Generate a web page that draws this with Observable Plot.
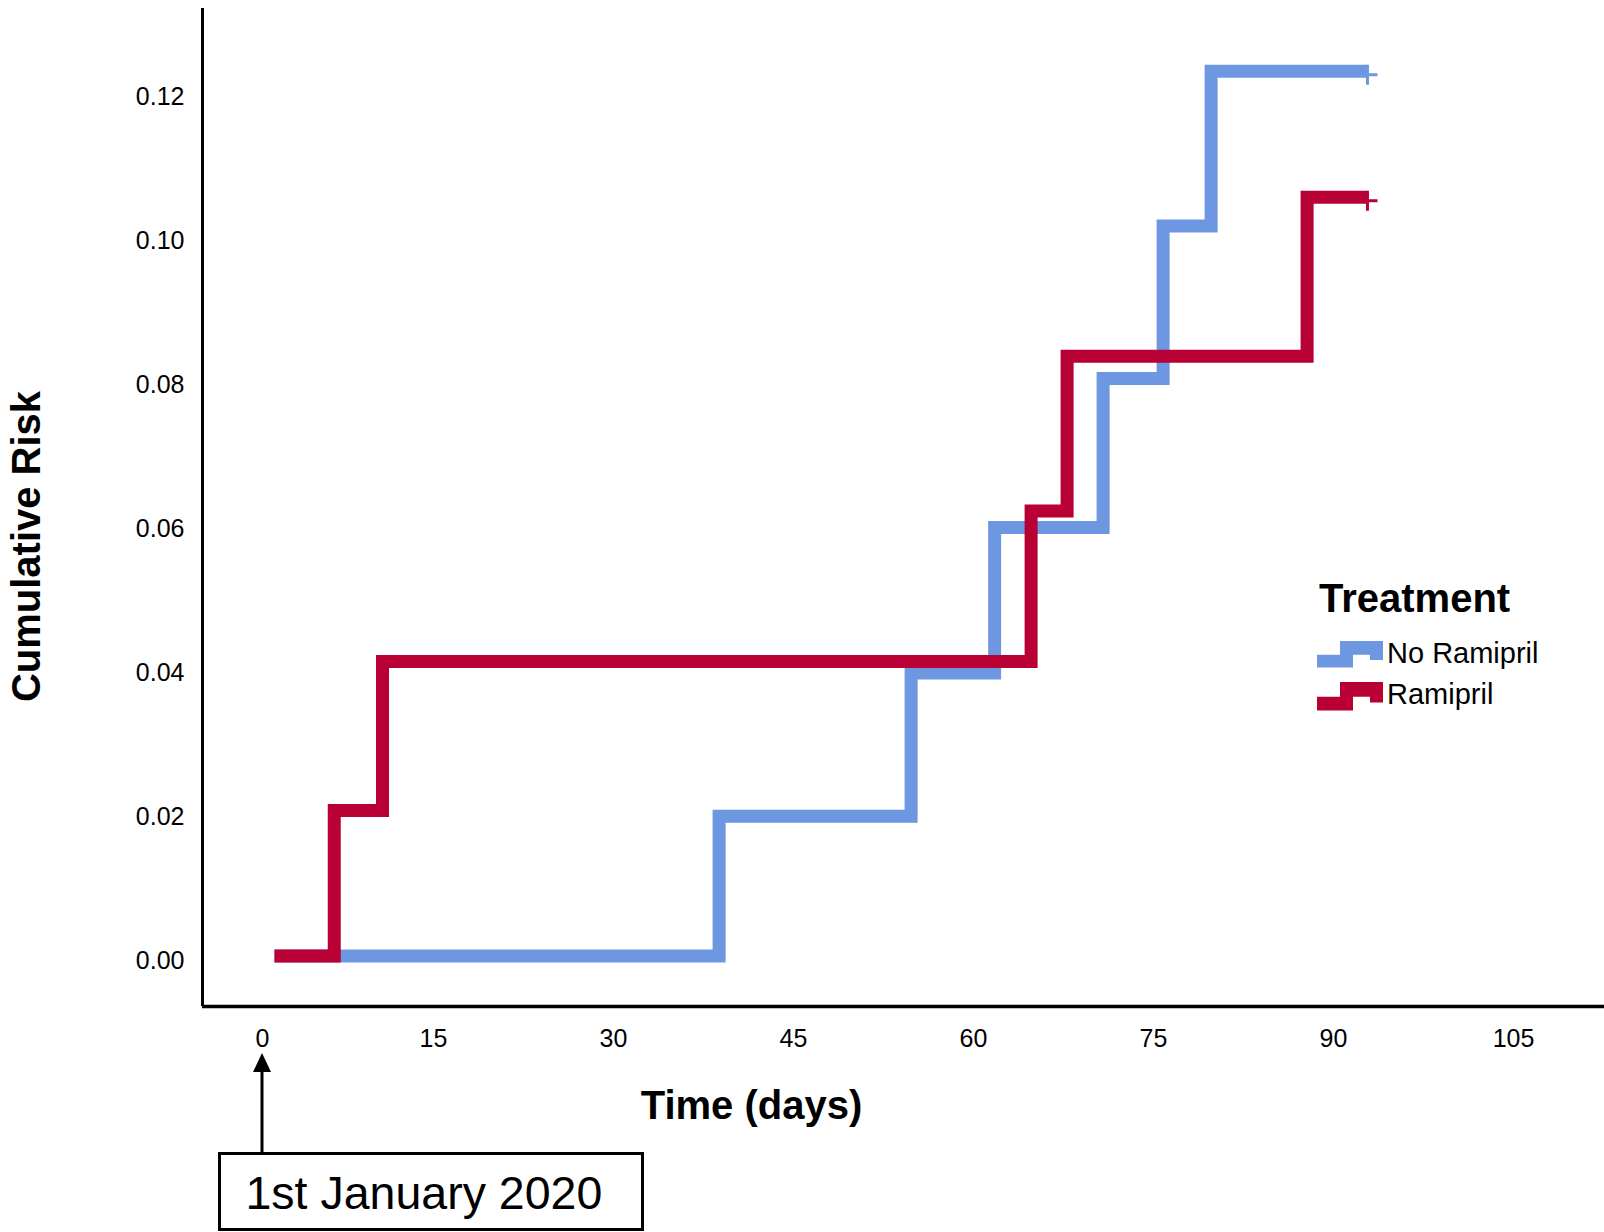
<!DOCTYPE html>
<html><head><meta charset="utf-8">
<script src="https://cdn.jsdelivr.net/npm/d3@7"></script>
<script src="https://cdn.jsdelivr.net/npm/@observablehq/plot@0.6"></script>
<style>
body{margin:0;background:#fff}
#wrap{position:relative;width:1604px;height:1232px;overflow:hidden;font-family:"Liberation Sans",Arial,sans-serif;background:#fff}
#wrap svg{position:absolute;left:0;top:0}
</style></head><body><div id="wrap"></div>
<script>
// ---- data ----
const seriesNames = ["No Ramipril", "Ramipril"];
const seriesColors = ["#6E97E2", "#B80034"];
const noRamiprilDays = [1.75, 38.8, 54.8, 61.76, 70.8, 75.8, 79.8, 92.83];
const noRamiprilRisk = [0, 0.0194, 0.0393, 0.0595, 0.0802, 0.1014, 0.1229, 0.1229];
const ramiprilDays = [1.75, 6.73, 10.75, 64.8, 67.8, 87.8, 92.83];
const ramiprilRisk = [0, 0.0202, 0.0409, 0.0618, 0.0833, 0.1054, 0.1054];
const xTicks = [15, 30, 45, 60, 75, 90, 105];
const xZeroLabel = "0";
const yTicks = [0, 0.02, 0.04, 0.06, 0.08, 0.10, 0.12];
const xTitle = "Time (days)";
const yTitle = "Cumulative Risk";
const legendTitle = "Treatment";
const annotationText = "1st January 2020";

const toRows = (name, days, risk) => days.map((d, i) => ({series: name, day: d, risk: risk[i]}));
const noRam = toRows(seriesNames[0], noRamiprilDays, noRamiprilRisk);
const ram = toRows(seriesNames[1], ramiprilDays, ramiprilRisk);
const ends = [noRam[noRam.length - 1], ram[ram.length - 1]];

const xDomain = [-4.25, 112.583];
const yDomain = [-0.00701, 0.1316];

const plusSymbol = {
  draw(ctx) {
    ctx.moveTo(0, -10); ctx.lineTo(0, 10);
    ctx.moveTo(-10, 0); ctx.lineTo(10, 0);
  }
};

const lineStyle = {x: "day", y: "risk", curve: "step-after", stroke: "series", strokeWidth: 13,
  strokeLinecap: "butt", strokeLinejoin: "miter", strokeMiterlimit: 10};

const chart = Plot.plot({
  width: 1604, height: 1232,
  marginLeft: 202, marginRight: 0, marginTop: 8, marginBottom: 226,
  x: {domain: xDomain},
  y: {domain: yDomain},
  color: {domain: seriesNames, range: seriesColors},
  style: {fontFamily: "Liberation Sans, Arial, sans-serif", color: "black", background: "white", overflow: "visible"},
  marks: [
    Plot.axisX(xTicks, {tickSize: 0, tickPadding: 23, fontSize: 25, label: null}),
    Plot.axisX([0], {tickSize: 0, tickPadding: 23, fontSize: 25, label: null, tickFormat: () => xZeroLabel, dx: 9}),
    Plot.axisY(yTicks, {tickSize: 0, tickPadding: 18, fontSize: 25, label: null, tickFormat: d => d.toFixed(2), dy: 4.5}),
    Plot.line(noRam, lineStyle),
    Plot.line(ram, lineStyle),
    Plot.dot(ends, {x: "day", y: "risk", symbol: plusSymbol, stroke: "series", fill: "none", strokeWidth: 3, dy: 3.5}),
    Plot.ruleY([yDomain[0]], {stroke: "black", strokeWidth: 3.5}),
    Plot.ruleX([xDomain[0]], {stroke: "black", strokeWidth: 3}),
    Plot.text([yTitle], {frameAnchor: "left", rotate: -90, textAnchor: "middle", lineAnchor: "middle", dx: -175.5, dy: 39, fontSize: 40, fontWeight: "bold", fill: "black"}),
    Plot.text([xTitle], {frameAnchor: "bottom", textAnchor: "middle", lineAnchor: "middle", dx: -152, dy: 100, fontSize: 40, fontWeight: "bold", fill: "black"})
  ]
});
const wrap = document.getElementById("wrap");
wrap.appendChild(chart);

// ---- overlay: legend and annotation ----
const ov = d3.select(wrap).append("svg").attr("width", 1604).attr("height", 1232)
  .style("font-family", "Liberation Sans, Arial, sans-serif");

ov.append("text").attr("x", 1319).attr("y", 612).attr("font-size", 40).attr("font-weight", "bold").text(legendTitle);
const stepIcon = "M0,13.7 H23 V0 H66 V19 H53 V13.7 H36 V26.5 H0 Z";
seriesNames.forEach((name, i) => {
  const oy = 641 + i * 41;
  ov.append("path").attr("d", stepIcon).attr("transform", `translate(1317,${oy}) scale(1,${i ? 1.08 : 1})`).attr("fill", seriesColors[i]);
  ov.append("text").attr("x", 1387).attr("y", oy + 21.5).attr("font-size", 29).text(name);
});

// arrow from the 0 tick to the annotation box
ov.append("line").attr("x1", 262).attr("x2", 262).attr("y1", 1068).attr("y2", 1153).attr("stroke", "black").attr("stroke-width", 3);
ov.append("path").attr("d", "M262,1053 L253,1072 L271,1072 Z").attr("fill", "black");
ov.append("rect").attr("x", 219.5).attr("y", 1153.5).attr("width", 423).attr("height", 76).attr("fill", "white").attr("stroke", "black").attr("stroke-width", 3);
ov.append("text").attr("x", 245.5).attr("y", 1209).attr("font-size", 46.5).text(annotationText);
</script>
</body></html>
